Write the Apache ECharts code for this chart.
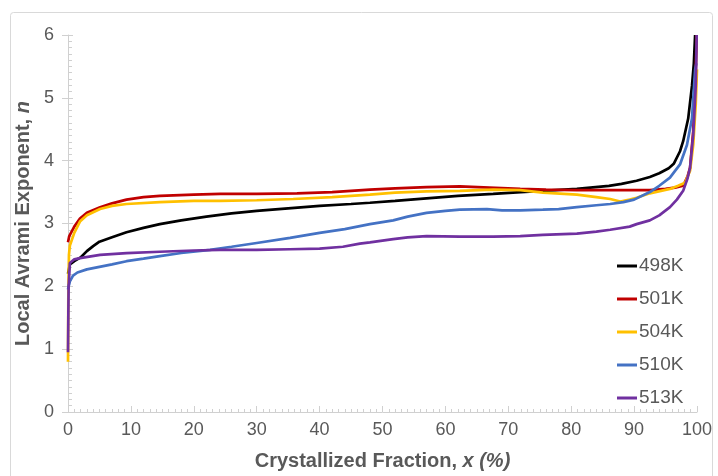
<!DOCTYPE html>
<html>
<head>
<meta charset="utf-8">
<script src="https://cdn.jsdelivr.net/npm/echarts@6/dist/echarts.min.js"></script>
<style>
html,body{margin:0;padding:0;background:#fff;}
#chart{width:718px;height:476px;}
</style>
</head>
<body>
<div id="chart"></div>
<script>
// Data: [crystallized fraction x (%), local Avrami exponent n]
const seriesNames = ['498K', '501K', '504K', '510K', '513K'];
const xTicks = [0, 10, 20, 30, 40, 50, 60, 70, 80, 90, 100];
const yTicks = [0, 1, 2, 3, 4, 5, 6];

const k498 = [[0,2.2],[0.3,2.35],[1,2.4],[2,2.46],[3,2.56],[4,2.64],[5,2.71],[7,2.78],[9.3,2.86],[12,2.93],[14.6,2.99],[18,3.05],[22,3.11],[26,3.16],[30,3.2],[35,3.24],[40,3.28],[45,3.31],[48,3.33],[52,3.36],[57,3.40],[62,3.44],[67.6,3.47],[72,3.5],[75.5,3.52],[80.9,3.55],[86,3.6],[88,3.63],[90.4,3.68],[92.5,3.74],[94,3.8],[95.5,3.88],[96.3,3.95],[97.3,4.15],[97.8,4.31],[98.6,4.67],[99.2,5.19],[99.5,5.55],[99.7,6.0]];
const k501 = [[0,2.7],[0.2,2.8],[1,2.95],[1.9,3.08],[3,3.17],[5.1,3.26],[7,3.32],[9.3,3.38],[12,3.42],[14.6,3.44],[20,3.46],[24.2,3.47],[30,3.47],[36.4,3.48],[42,3.5],[48,3.54],[52,3.56],[57,3.58],[62.3,3.59],[67,3.57],[71.9,3.55],[76,3.54],[80.9,3.53],[86,3.53],[92.5,3.53],[95,3.55],[96.5,3.57],[97.8,3.6],[98.5,3.75],[98.9,3.89],[99.4,4.47],[99.8,5.4],[99.95,6.0]];
const k504 = [[0,0.8],[0.05,1.8],[0.15,2.5],[0.3,2.65],[1,2.85],[1.9,3.03],[3,3.13],[5.1,3.23],[7,3.28],[9.3,3.31],[14.6,3.34],[20,3.36],[24.2,3.36],[30,3.37],[35.8,3.39],[42,3.42],[48,3.46],[52,3.49],[57,3.51],[62.3,3.52],[67.6,3.54],[71.9,3.53],[75.5,3.49],[80.9,3.46],[84,3.42],[86.2,3.39],[87.8,3.35],[89.3,3.38],[90.4,3.41],[92.5,3.48],[95.7,3.55],[97,3.6],[98.1,3.65],[98.9,3.84],[99.4,4.25],[99.8,4.9],[100,5.45]];
const k510 = [[0,1.95],[0.1,2.0],[0.3,2.08],[0.8,2.17],[1.5,2.22],[3,2.27],[5,2.31],[7,2.35],[9.3,2.4],[12,2.44],[14.6,2.48],[18,2.53],[22.6,2.58],[26,2.63],[30,2.69],[35.3,2.77],[40,2.85],[44,2.91],[48,2.99],[51.7,3.05],[54,3.11],[57,3.17],[60,3.2],[62.3,3.22],[66.6,3.23],[69,3.21],[71.9,3.21],[75.5,3.22],[78,3.23],[80.9,3.26],[84,3.29],[86.2,3.31],[88.3,3.34],[90,3.38],[92.5,3.5],[94,3.6],[95.7,3.73],[97.3,3.94],[98.4,4.25],[99.2,4.67],[99.7,5.45],[99.9,5.55]];
const k513 = [[0,0.95],[0.05,1.5],[0.1,2.0],[0.3,2.37],[1,2.43],[1.9,2.45],[5.1,2.5],[9.3,2.53],[14.6,2.55],[20,2.57],[24.2,2.58],[30,2.58],[35.3,2.59],[40,2.6],[43.7,2.63],[46.4,2.68],[48,2.7],[51.7,2.75],[54,2.78],[57,2.8],[62.3,2.79],[67.6,2.79],[71.9,2.8],[75.5,2.82],[80.9,2.84],[84,2.87],[86.2,2.9],[89.3,2.95],[90.4,2.99],[92.5,3.05],[94,3.13],[95.7,3.26],[96.8,3.38],[97.8,3.52],[98.5,3.72],[98.9,3.89],[99.4,4.41],[99.8,5.19],[99.95,6.0]];

const seriesData = [k498, k501, k504, k510, k513];
const colors = ['#000000', '#c00000', '#ffc000', '#4472c4', '#7030a0'];

const FONT = '"Liberation Sans", Arial, sans-serif';
const GREY = '#595959';
const AXIS = '#d0d0d0';

const chart = echarts.init(document.getElementById('chart'));
chart.setOption({
  animation: false,
  backgroundColor: '#fff',
  graphic: [{
    type: 'rect',
    shape: { x: 10.5, y: 12.5, width: 702, height: 480, r: 3 },
    style: { fill: 'none', stroke: '#d9d9d9', lineWidth: 1 },
    z: -1
  }],
  grid: { left: 68, right: 21, top: 35, bottom: 58, containLabel: false },
  legend: {
    orient: 'vertical',
    left: 612,
    top: 251,
    itemGap: 13,
    itemWidth: 20,
    itemHeight: 3,
    icon: 'rect',
    data: seriesNames,
    textStyle: { fontFamily: FONT, fontSize: 19, color: GREY, lineHeight: 20, padding: [0, 0, 0, -3] }
  },
  xAxis: {
    type: 'value',
    min: 0, max: 100, interval: 10,
    name: '{b|Crystallized Fraction, }{bi|x (%)}',
    nameLocation: 'middle',
    nameGap: 39,
    nameTextStyle: {
      rich: {
        b: { fontFamily: FONT, fontSize: 20, fontWeight: 'bold', color: GREY },
        bi: { fontFamily: FONT, fontSize: 20, fontWeight: 'bold', fontStyle: 'italic', color: GREY }
      }
    },
    axisLine: { lineStyle: { color: AXIS, width: 1 } },
    axisTick: { inside: true, length: 6, lineStyle: { color: AXIS } },
    minorTick: { show: true, splitNumber: 10, length: 3, lineStyle: { color: AXIS } },
    axisLabel: { fontFamily: FONT, fontSize: 18, color: GREY, margin: 9,
      formatter: v => xTicks.includes(v) ? String(v) : '' },
    splitLine: { show: false }
  },
  yAxis: [{
    type: 'value',
    min: 0, max: 6, interval: 1,
    name: '{b|Local Avrami Exponent, }{bi|n}',
    nameLocation: 'middle',
    nameGap: 25,
    nameRotate: 90,
    nameTextStyle: {
      rich: {
        b: { fontFamily: FONT, fontSize: 20, fontWeight: 'bold', color: GREY },
        bi: { fontFamily: FONT, fontSize: 20, fontWeight: 'bold', fontStyle: 'italic', color: GREY }
      }
    },
    axisLine: { show: true, lineStyle: { color: AXIS, width: 1 } },
    axisTick: { show: true, inside: false, length: 6, lineStyle: { color: AXIS } },
    minorTick: { show: false },
    axisLabel: { fontFamily: FONT, fontSize: 18, color: GREY, margin: 14,
      formatter: v => yTicks.includes(v) ? String(v) : '' },
    splitLine: { show: false }
  }, {
    type: 'value',
    min: 0, max: 6, interval: 1,
    position: 'left',
    axisLine: { show: false },
    axisTick: { show: true, inside: true, length: 5, lineStyle: { color: AXIS } },
    minorTick: { show: true, splitNumber: 10, length: 4, lineStyle: { color: AXIS } },
    axisLabel: { show: false },
    splitLine: { show: false }
  }],
  series: seriesNames.map((name, i) => ({
    name: name,
    type: 'line',
    data: seriesData[i],
    showSymbol: false,
    symbol: 'none',
    smooth: false,
    color: colors[i],
    lineStyle: { width: 2.7, color: colors[i] },
    yAxisIndex: 0
  }))
});
</script>
</body>
</html>
